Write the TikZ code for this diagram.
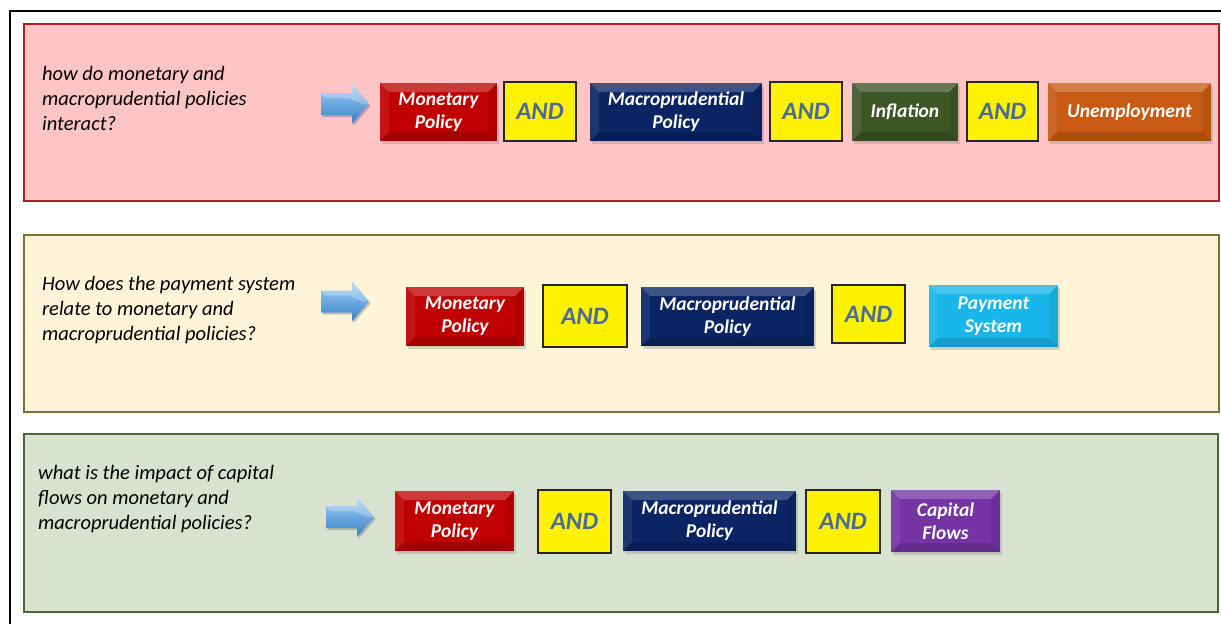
\documentclass[tikz,border=0pt]{standalone}
\usepackage{fontspec}
\setmainfont{Carlito}
\usetikzlibrary{shadows}
\definecolor{p1fill}{HTML}{FFC4C4}
\definecolor{p1draw}{HTML}{B01E28}
\definecolor{p2fill}{HTML}{FFF3D8}
\definecolor{p2draw}{HTML}{80702C}
\definecolor{p3fill}{HTML}{D7E3D0}
\definecolor{p3draw}{HTML}{4A6638}
\definecolor{cmon}{HTML}{C00000}
\definecolor{cmac}{HTML}{0A2464}
\definecolor{cinf}{HTML}{3E5526}
\definecolor{cune}{HTML}{C85A14}
\definecolor{cpay}{HTML}{18B6EA}
\definecolor{ccap}{HTML}{7434A4}
\definecolor{andtext}{HTML}{4A6A98}
\definecolor{arrtop}{HTML}{A8D0F2}
\definecolor{arrmid}{HTML}{6AA8E0}
\definecolor{arrbot}{HTML}{3A80C4}
\tikzset{
  panelbox/.style={line width=2pt, inner sep=0pt},
  qtext/.style={anchor=north west, align=left, inner sep=0pt,
    font=\fontsize{20.5}{25}\selectfont\itshape},
  bevel/.style={path picture={
    \fill[white,opacity=0.22] (path picture bounding box.north west) -- (path picture bounding box.north east)
      -- ([xshift=-9pt,yshift=-9pt]path picture bounding box.north east) -- ([xshift=9pt,yshift=-9pt]path picture bounding box.north west) -- cycle;
    \fill[white,opacity=0.08] (path picture bounding box.north west) -- (path picture bounding box.south west)
      -- ([xshift=9pt,yshift=9pt]path picture bounding box.south west) -- ([xshift=9pt,yshift=-9pt]path picture bounding box.north west) -- cycle;
    \fill[black,opacity=0.14] (path picture bounding box.south west) -- (path picture bounding box.south east)
      -- ([xshift=-9pt,yshift=9pt]path picture bounding box.south east) -- ([xshift=9pt,yshift=9pt]path picture bounding box.south west) -- cycle;
    \fill[black,opacity=0.07] (path picture bounding box.north east) -- (path picture bounding box.south east)
      -- ([xshift=-9pt,yshift=9pt]path picture bounding box.south east) -- ([xshift=-9pt,yshift=-9pt]path picture bounding box.north east) -- cycle;
  }},
  cbox/.style={minimum height=58pt, inner sep=0pt, text=white, align=center,
    font=\fontsize{19.5}{23}\selectfont\bfseries\itshape,
    drop shadow={shadow xshift=2pt, shadow yshift=-3pt, opacity=0.3}, bevel},
  andbox/.style={minimum height=59pt, inner sep=0pt, fill=yellow, draw=black!85, line width=1.2pt,
    text=andtext, font=\fontsize{25}{27}\selectfont\bfseries\itshape},
  blockarrow/.pic={
    \fill[black,opacity=0.2] (-22.5,-9) -- (8.5,-9) -- (8.5,-18) -- (25.5,2) -- (8.5,22) -- (8.5,13) -- (-22.5,13) -- cycle;
    \shade[top color=arrtop, bottom color=arrbot, middle color=arrmid]
      (-24,-11) -- (7,-11) -- (7,-20) -- (24,0) -- (7,20) -- (7,11) -- (-24,11) -- cycle;
    \fill[white,opacity=0.25] (-24,-11) -- (7,-11) -- (7,-20) -- (24,0) -- (18,0) -- (3,-6) -- (-20,-6) -- cycle;
  }
}
\begin{document}
\begin{tikzpicture}[x=1pt,y=-1pt]
\useasboundingbox (0,0) rectangle (1221,624);
\fill[white] (0,0) rectangle (1221,624);
\draw[black, line width=1.5pt] (10,624) -- (10,11) -- (1221,11);

% panels
\node[panelbox, fill=p1fill, draw=p1draw, minimum width=1195pt, minimum height=177pt] (p1) at (621.5,112.5) {};
\node[panelbox, fill=p2fill, draw=p2draw, minimum width=1195pt, minimum height=177pt] (p2) at (621.5,323.5) {};
\node[panelbox, fill=p3fill, draw=p3draw, minimum width=1194pt, minimum height=178pt] (p3) at (621,523) {};

% panel 1
\node[qtext] (q1) at (42,66) {how do monetary and\\macroprudential policies\\interact?};
\pic (a1) at (345,104) {blockarrow};
\node[cbox, fill=cmon, minimum width=117pt] (m1) at (438.5,112) {Monetary\\Policy};
\node[andbox, minimum width=72pt] (and11) at (540,111.5) {AND};
\node[cbox, fill=cmac, minimum width=172pt] (mp1) at (676,112) {Macroprudential\\Policy};
\node[andbox, minimum width=72pt] (and12) at (806,111.5) {AND};
\node[cbox, fill=cinf, minimum width=106pt] (inf1) at (905,112) {Inflation};
\node[andbox, minimum width=71pt] (and13) at (1002.5,111.5) {AND};
\node[cbox, fill=cune, minimum width=163pt] (une1) at (1129.5,112) {Unemployment};

% panel 2
\node[qtext] (q2) at (42,276) {How does the payment system\\relate to monetary and\\macroprudential policies?};
\pic (a2) at (345,301.5) {blockarrow};
\node[cbox, fill=cmon, minimum width=118pt, minimum height=59pt] (m2) at (465,316.5) {Monetary\\Policy};
\node[andbox, minimum width=84pt, minimum height=62pt] (and21) at (585,316) {AND};
\node[cbox, fill=cmac, minimum width=173pt, minimum height=59pt] (mp2) at (727.5,316.5) {Macroprudential\\Policy};
\node[andbox, minimum width=73pt, minimum height=58pt] (and22) at (868.5,314) {AND};
\node[cbox, fill=cpay, minimum width=129pt, minimum height=62pt] (pay2) at (993.5,316) {Payment\\System};

% panel 3
\node[qtext] (q3) at (38,465) {what is the impact of capital\\flows on monetary and\\macroprudential policies?};
\pic (a3) at (350,517) {blockarrow};
\node[cbox, fill=cmon, minimum width=119pt, minimum height=60pt] (m3) at (454.5,521) {Monetary\\Policy};
\node[andbox, minimum width=73pt, minimum height=63pt] (and31) at (574.5,521.5) {AND};
\node[cbox, fill=cmac, minimum width=173pt, minimum height=60pt] (mp3) at (709.5,521) {Macroprudential\\Policy};
\node[andbox, minimum width=74pt, minimum height=63pt] (and32) at (843,521.5) {AND};
\node[cbox, fill=ccap, minimum width=109pt, minimum height=62pt] (cap3) at (945.5,521) {Capital\\Flows};
\end{tikzpicture}
\end{document}
